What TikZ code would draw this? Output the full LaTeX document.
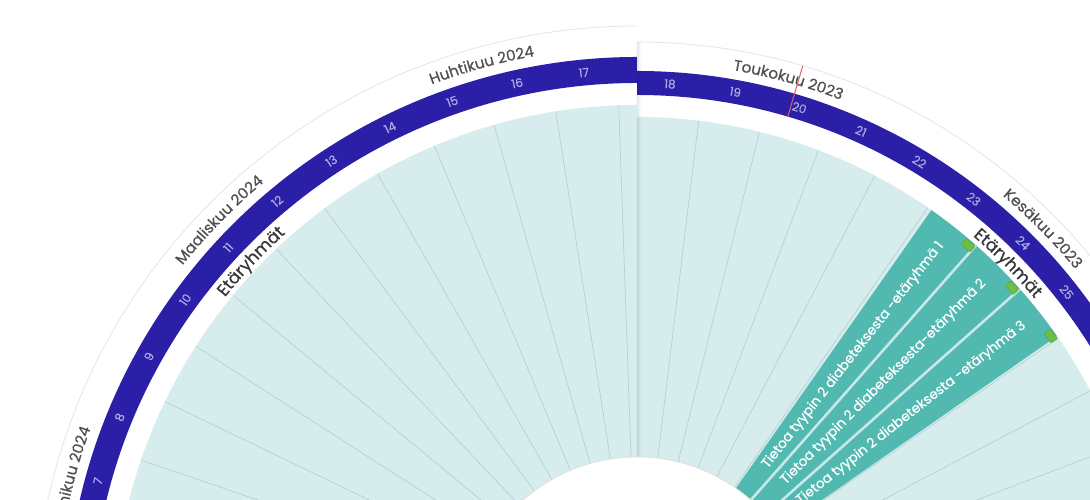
\documentclass[tikz,border=0pt]{standalone}
\usepackage{fontspec}
\setmainfont{Poppins}
\newfontfamily\popb{Poppins}[FakeBold=0.6]
\usetikzlibrary{decorations.text}
\definecolor{band}{RGB}{42,31,166}
\definecolor{bandtxt}{RGB}{170,170,225}
\definecolor{teall}{RGB}{214,236,237}
\definecolor{spoke}{RGB}{176,206,209}
\definecolor{bar}{RGB}{82,185,177}
\definecolor{barsep}{RGB}{200,232,230}
\definecolor{mark}{RGB}{108,190,72}
\definecolor{monthtxt}{RGB}{80,80,80}
\definecolor{ringtxt}{RGB}{55,55,55}
\definecolor{today}{RGB}{226,92,104}
\definecolor{faint}{RGB}{228,228,228}
% sector: style, angle1, angle2, inner r, outer r
\newcommand{\sector}[5]{\fill[#1] ([shift={(C)}]#2:#5bp) arc[start angle=#2,end angle=#3,radius=#5bp] -- ([shift={(C)}]#3:#4bp) arc[start angle=#3,end angle=#2,radius=#4bp] -- cycle;}
% arc text: start angle, end angle, radius, format, text
\newcommand{\arctext}[5]{\path[decorate, decoration={text along path, text align=center, text={|#4|#5}}] ([shift={(C)}]#1:#3bp) arc[start angle=#1, end angle=#2, radius=#3bp];}
\newcommand{\mfont}{\popb\fontsize{15.2}{18}\selectfont\color{monthtxt}}
\newcommand{\rfont}{\popb\fontsize{17}{20}\selectfont\color{ringtxt}}
\begin{document}
\begin{tikzpicture}[x=1bp,y=1bp,
  num/.style={font=\popb\fontsize{12}{14}\selectfont, text=bandtxt, inner sep=0},
  bartxt/.style={font=\popb\fontsize{13.6}{16}\selectfont, text=white, inner sep=0, anchor=east},
  marker/.style={fill=mark, draw=mark!80!black, line width=0.3bp, rounded corners=1bp, minimum width=12bp, minimum height=8bp, inner sep=0},
  spk/.style={draw=spoke, line width=0.6bp}]
\useasboundingbox (0,0) rectangle (1090,500);
\clip (0,0) rectangle (1090,500);
\coordinate (C) at (637,-129);

% ---------- left disc (2024) ----------
\draw[faint, line width=0.8bp] ([shift={(C)}]90:603bp) arc[start angle=90,end angle=200,radius=603bp];
\sector{band}{90}{200}{546}{572}
\sector{teall}{90}{200}{172}{524}
\foreach \k in {0,...,16} {
  \pgfmathsetmacro\a{92+\k*6.92}
  \draw[spk] ([shift={(C)}]\a:172bp) -- ([shift={(C)}]\a:524bp);
}
\foreach \n in {6,...,17} {
  \pgfmathsetmacro\a{92+(17.5-\n)*6.92}
  \pgfmathsetmacro\r{\a-90}
  \node[num, rotate=\r] (wl\n) at ([shift={(C)}]\a:559bp) {\n};
}
\arctext{125.4}{85.4}{582}{\mfont}{Huhtikuu 2024}
\arctext{155.6}{115.6}{582}{\mfont}{Maaliskuu 2024}
\arctext{185.3}{145.3}{582}{\mfont}{Helmikuu 2024}
\arctext{156.4}{116.4}{529}{\rfont}{Etäryhmät}

% ---------- right card (2023) ----------
\fill[white] (C) -- ([shift={(C)}]90:587bp) arc[start angle=90,end angle=-60,radius=587bp] -- cycle;
\draw[faint, line width=0.8bp] ([shift={(C)}]90:587bp) arc[start angle=90,end angle=-60,radius=587bp];
\sector{band}{-60}{90}{534}{558}
\sector{teall}{-60}{90}{172}{512}
\foreach \k in {1,...,20} {
  \pgfmathsetmacro\a{90-\k*6.92}
  \draw[spk] ([shift={(C)}]\a:172bp) -- ([shift={(C)}]\a:512bp);
}
% events
\sector{bar}{34.9}{54.9}{172}{512}
\draw[barsep, line width=2.6bp] ([shift={(C)}]48.55:172bp) -- ([shift={(C)}]48.55:512bp);
\draw[barsep, line width=2.6bp] ([shift={(C)}]41.6:172bp) -- ([shift={(C)}]41.6:512bp);
\node[bartxt, rotate=51.7] (ev1) at ([shift={(C)}]51.7:491bp) {Tietoa tyypin 2 diabeteksesta -etäryhmä 1};
\node[bartxt, rotate=45.05] (ev2) at ([shift={(C)}]45.05:491bp) {Tietoa tyypin 2 diabeteksesta-etäryhmä 2};
\node[bartxt, rotate=38.2] (ev3) at ([shift={(C)}]38.2:493bp) {Tietoa tyypin 2 diabeteksesta -etäryhmä 3};
\node[marker, rotate=-40.9] (m1) at ([shift={(C)}]49.2:507bp) {};
\node[marker, rotate=-47.8] (m2) at ([shift={(C)}]42.3:507bp) {};
\node[marker, rotate=-54.8] (m3) at ([shift={(C)}]35.3:507bp) {};
% week numbers
\foreach \n in {18,...,27} {
  \pgfmathsetmacro\a{90-(\n-17.5)*6.92}
  \pgfmathsetmacro\r{\a-90}
  \node[num, rotate=\r] (wr\n) at ([shift={(C)}]\a:546bp) {\n};
}
\arctext{94.6}{54.6}{567}{\mfont}{Toukokuu 2023}
\arctext{64.6}{24.6}{567}{\mfont}{Kesäkuu 2023}
\arctext{64.6}{24.6}{517}{\rfont}{Etäryhmät}
% today marker
\draw[today, line width=1bp] ([shift={(C)}]73.6:534bp) -- ([shift={(C)}]73.6:587bp);
% seam shadow
\foreach \i/\o in {0/0.10,1/0.07,2/0.045,3/0.025,4/0.012} {
  \draw[black, opacity=\o, line width=1bp] (637.5+\i,43) -- (637.5+\i,458);
}
% centre
\fill[white] (C) circle[radius=172bp];
\draw[gray!25, line width=0.7bp] (C) circle[radius=172bp];
\end{tikzpicture}
\end{document}
